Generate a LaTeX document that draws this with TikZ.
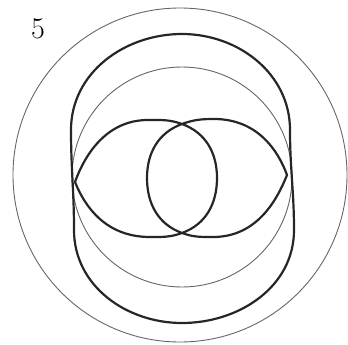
\documentclass[tikz,border=0pt]{standalone}
\begin{document}
\begin{tikzpicture}[
  x=1pt, y=1pt,
  guide/.style={draw=black!60, line width=0.9pt},
  loop/.style={draw=black!85, line width=2.2pt},
  label/.style={inner sep=0pt, font=\fontsize{30}{34}\selectfont}
]
\useasboundingbox (0,0) rectangle (348,-345);
% thin circles
\coordinate (outer) at (180,-175);
\coordinate (inner) at (182,-177);
\draw[guide] (outer) circle[radius=167];
\draw[guide] (inner) circle[radius=110];
% crossing points of the two drops
\coordinate (top) at (182,-124);
\coordinate (bot) at (182,-233);
% outer thick loop
\draw[loop] (71,-130) to[out=90,in=180] (182,-34)
  to[out=0,in=90] (290,-130)
  to[out=-90,in=90] (294,-230)
  to[out=-90,in=0] (182,-323)
  to[out=180,in=-90] (74,-230)
  to[out=90,in=-90] cycle;
% left drop
\draw[loop] (75,-182) .. controls (84,-157) and (105,-120) .. (148,-120)
  to[out=0,in=160] (top)
  to[out=-20,in=90] (217,-178)
  to[out=-90,in=20] (bot)
  to[out=200,in=0] (150,-237)
  .. controls (106,-237) and (85,-207) .. cycle;
% right drop
\draw[loop] (287,-175) .. controls (278,-150) and (257,-119) .. (214,-119)
  to[out=180,in=20] (top)
  to[out=200,in=90] (147,-178)
  to[out=-90,in=160] (bot)
  to[out=-20,in=180] (213,-237)
  .. controls (257,-237) and (277,-200) .. cycle;
\node[label] (num) at (38,-28.5) {5};
\end{tikzpicture}
\end{document}
